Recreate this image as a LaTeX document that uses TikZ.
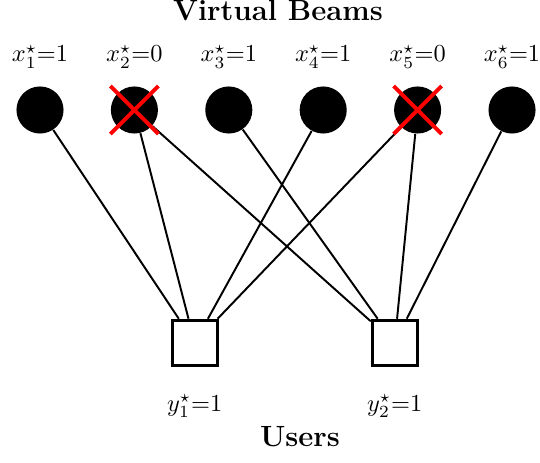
\documentclass[tikz,border=0pt]{standalone}
\usepackage{amssymb}

\begin{document}
\begin{tikzpicture}[x=0.41pt,y=-0.41pt,
  beam/.style ={circle, fill=black, inner sep=0pt, minimum size=19.3pt},
  user/.style ={draw=black, line width=1.15pt, fill=white, inner sep=0pt, minimum size=18.5pt},
  link/.style ={line width=0.8pt},
  off/.style  ={draw=red, line width=1.6pt}]
  \useasboundingbox (0,0) rectangle (540,462);

  % headings
  \node[anchor=base, inner sep=1pt] (top) at (278,21){\large\bfseries Virtual Beams};
  \node[anchor=base, inner sep=1pt] (bot) at (300,446){\large\bfseries Users};

  % virtual beams (top row) with their values
  \foreach \i/\x/\v in {1/40/1,2/134.4/0,3/228.8/1,4/323.2/1,5/417.6/0,6/512/1}{
    \node[beam] (b\i) at (\x,110){};
    \node[anchor=base] (lx\i) at (\x,62){$x^\star_{\i}$=\v};
  }

  % users (bottom row)
  \node[user] (u1) at (194.7,342.7){}; \node[anchor=base] (ly1) at (194.7,411.5){$y^\star_1$=1};
  \node[user] (u2) at (394.7,342.7){}; \node[anchor=base] (ly2) at (394.7,411.5){$y^\star_2$=1};

  % beam -> user links
  \foreach \b/\u in {1/1,2/1,2/2,3/2,4/1,5/1,5/2,6/2}{
    \draw[link] (b\b) -- (u\u);
  }
  % redraw users on top of the links
  \node[user] at (u1){}; \node[user] at (u2){};

  % switched-off beams
  \foreach \b in {2,5}{
    \draw[off] ([shift={(-24,-24)}]b\b.center) -- ([shift={(24,24)}]b\b.center);
    \draw[off] ([shift={(-24,24)}]b\b.center) -- ([shift={(24,-24)}]b\b.center);
  }
\end{tikzpicture}
\end{document}
